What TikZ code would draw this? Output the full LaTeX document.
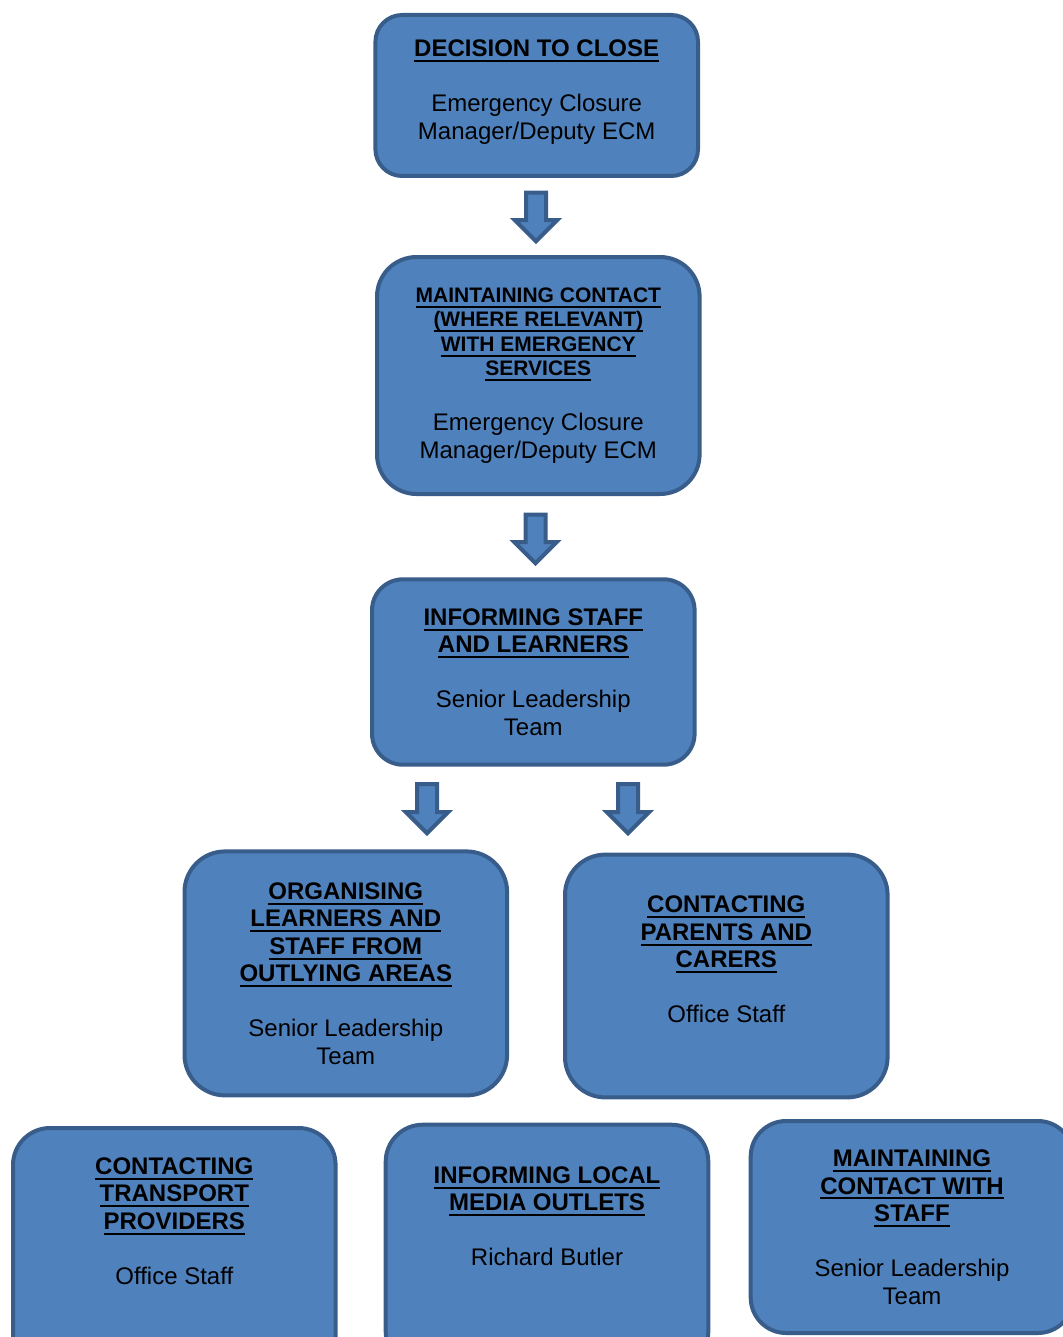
\documentclass[tikz,border=0pt]{standalone}
\usepackage{fontspec}
\setmainfont{Liberation Sans}
\usetikzlibrary{calc}
\definecolor{boxfill}{HTML}{4F81BD}
\definecolor{boxline}{HTML}{385D8A}
\newcommand{\hdr}[2][12pt]{\setbox0=\hbox{\fontsize{#1}{#1}\selectfont\bfseries #2}\rlap{\rule[-2.7pt]{\wd0}{1pt}}\box0}
\tikzset{card/.style = {draw=boxline, fill=boxfill, line width=2pt, align=center, inner sep=0pt,
		minimum width=161.3pt, font=\fontsize{12pt}{13.75pt}\selectfont},
	blockarrow/.style = {draw=boxline, fill=boxfill, line width=2pt, line join=miter,
		to path={let \p1=(\tikztostart), \p2=(\tikztotarget) in
			(\x1-5pt,\y1) -- (\x1+5pt,\y1) -- (\x1+5pt,\y2+10.5pt) -- (\x1+10.5pt,\y2+10.5pt)
			-- (\x1,\y2) -- (\x1-10.5pt,\y2+10.5pt) -- (\x1-5pt,\y2+10.5pt) -- cycle}}}

\begin{document}
\begin{tikzpicture}[x=0.5pt,y=-0.5pt]
	\clip (0,0) rectangle (1063,1337);
\node [card, minimum height=80.5pt, rounded corners=13.4pt, text depth=6pt] (decide) at (536.7,95.5)
	{\hdr{DECISION TO CLOSE}\\[13.75pt] Emergency Closure\\ Manager/Deputy ECM};
\node [card, minimum height=118.5pt, rounded corners=19.75pt] (contact) at (538.3,375.5)
	{\hdr[10.5pt]{MAINTAINING CONTACT}\\[-1.6pt] \hdr[10.5pt]{(WHERE RELEVANT)}\\[-1.6pt]
	\hdr[10.5pt]{WITH EMERGENCY}\\[-1.6pt] \hdr[10.5pt]{SERVICES}\\[13.75pt]
	Emergency Closure\\ Manager/Deputy ECM};
\node [card, minimum height=92.7pt, rounded corners=15.5pt] (inform) at (533.3,672)
	{\hdr{INFORMING STAFF}\\ \hdr{AND LEARNERS}\\[13.75pt] Senior Leadership\\ Team};
\node [card, minimum height=122pt, rounded corners=20.3pt] (organise) at (345.8,973.4)
	{\hdr{ORGANISING}\\ \hdr{LEARNERS AND}\\ \hdr{STAFF FROM}\\ \hdr{OUTLYING AREAS}\\[13.75pt]
	Senior Leadership\\ Team};
\node [card, minimum height=121.4pt, rounded corners=20.2pt, text depth=16.5pt] (parents) at (726.3,976)
	{\hdr{CONTACTING}\\ \hdr{PARENTS AND}\\ \hdr{CARERS}\\[13.75pt] Office Staff};
\node [card, minimum height=122pt, rounded corners=18.5pt, text depth=29pt] (transport) at (174.3,1250)
	{\hdr{CONTACTING}\\ \hdr{TRANSPORT}\\ \hdr{PROVIDERS}\\[13.75pt] Office Staff};
\node [card, minimum height=122pt, rounded corners=18.5pt, text depth=30.4pt] (media) at (547,1246.7)
	{\hdr{INFORMING LOCAL}\\ \hdr{MEDIA OUTLETS}\\[13.75pt] Richard Butler};
\node [card, minimum height=106pt, rounded corners=17.7pt] (staff) at (912,1227)
	{\hdr{MAINTAINING}\\ \hdr{CONTACT WITH}\\ \hdr{STAFF}\\[13.75pt] Senior Leadership\\ Team};
\draw [blockarrow] ($(decide.south)+(-0.7,14.7)$) to ($(contact.north)+(0,-13.8)$);
\draw [blockarrow] ($(contact.south)+(-2.8,18.7)$) to ($(inform.north)+(0,-14.1)$);
\draw [blockarrow] ($(inform.south)+(-106.3,17.3)$) to ($(organise.north)+(0,-16.2)$);
\draw [blockarrow] ($(inform.south)+(94.7,17.3)$) to ($(parents.north)+(0,-19.4)$);
\end{tikzpicture}
\end{document}
